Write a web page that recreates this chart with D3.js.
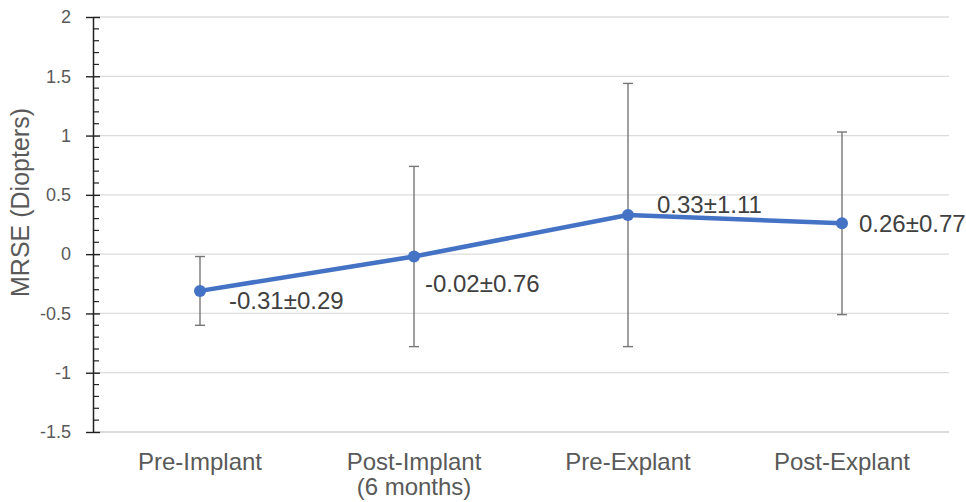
<!DOCTYPE html>
<html>
<head>
<meta charset="utf-8">
<script src="https://cdn.jsdelivr.net/npm/d3@7/dist/d3.min.js"></script>
<style>
  html, body { margin: 0; padding: 0; background: #fff; }
  svg { display: block; font-family: "Liberation Sans", Arial, Helvetica, sans-serif; }
</style>
</head>
<body>
<div id="chart"></div>
<script>
// data
const categories = ["Pre-Implant", "Post-Implant\n(6 months)", "Pre-Explant", "Post-Explant"]
const means = [-0.31, -0.02, 0.33, 0.26]
const sds = [0.29, 0.76, 1.11, 0.77]
const yTicks = [-1.5, -1, -0.5, 0, 0.5, 1, 1.5, 2]

// label offsets from each point (layout only)
const labelOffsets = [[29, 10], [11, 27], [29, -10], [17, 0]]

const width = 966
const height = 502
const margin = { top: 17, right: 17, bottom: 70, left: 93 }

// plain hyphen for negatives, like the original
const fmt = d3.formatLocale({ decimal: ".", thousands: ",", grouping: [3], currency: ["", ""], minus: "-" })
const fmtTick = fmt.format("")
const fmt2 = fmt.format(".2f")

const svg = d3.select("#chart")
  .append("svg")
  .attr("width", width)
  .attr("height", height)

const x = d3.scaleBand()
  .domain(categories)
  .range([margin.left, width - margin.right])

const y = d3.scaleLinear()
  .domain([-1.5, 2])
  .range([height - margin.bottom, margin.top])

/*
 * gridlines
 */
svg.append("g")
  .selectAll("line")
  .data(yTicks)
  .join("line")
  .attr("x1", margin.left)
  .attr("x2", width - margin.right)
  .attr("y1", (d) => y(d))
  .attr("y2", (d) => y(d))
  .attr("stroke", (d) => (d === -1.5 ? "#cfcfcf" : "#dcdcdc"))
  .attr("stroke-width", 1.3)

/*
 * y axis: labels, major and minor ticks
 */
const yAxis = svg.append("g")
  .attr("transform", `translate(${margin.left},0)`)
  .call(
    d3.axisLeft(y)
      .tickValues(yTicks)
      .tickSizeInner(7)
      .tickSizeOuter(0)
      .tickPadding(15)
      .tickFormat(fmtTick)
  )
yAxis.select(".domain").attr("stroke", "#222").attr("stroke-width", 1.5)
yAxis.selectAll(".tick line").attr("x2", 7).attr("x1", -7).attr("stroke", "#222").attr("stroke-width", 1.4)
yAxis.selectAll(".tick text")
  .attr("fill", "#595959")
  .style("font-size", "18px")
  .style("font-family", "'Liberation Sans', Arial, sans-serif")

const minorTicks = d3.range(-15, 21).map((v) => v / 10).filter((v) => !yTicks.includes(v))
yAxis.append("g")
  .selectAll("line")
  .data(minorTicks)
  .join("line")
  .attr("x1", 0)
  .attr("x2", 6)
  .attr("y1", (d) => y(d))
  .attr("y2", (d) => y(d))
  .attr("stroke", "#222")
  .attr("stroke-width", 1.2)

/*
 * y title
 */
svg.append("text")
  .attr("transform", `translate(29,${(margin.top + height - margin.bottom) / 2 - 22}) rotate(-90)`)
  .attr("text-anchor", "middle")
  .attr("fill", "#595959")
  .style("font-size", "25px")
  .text("MRSE (Diopters)")

/*
 * x labels
 */
const xLabels = svg.append("g")
  .selectAll("text")
  .data(categories)
  .join("text")
  .attr("x", (d) => x(d) + x.bandwidth() / 2)
  .attr("y", 470)
  .attr("text-anchor", "middle")
  .attr("fill", "#595959")
  .style("font-size", "24px")

xLabels.selectAll("tspan")
  .data((d) => d.split("\n"))
  .join("tspan")
  .attr("x", function () { return d3.select(this.parentNode).attr("x") })
  .attr("dy", (d, i) => (i === 0 ? 0 : 25))
  .text((d) => d)

/*
 * error bars
 */
const cx = (i) => x(categories[i]) + x.bandwidth() / 2
const err = svg.append("g")
  .attr("stroke", "#777")
  .attr("stroke-width", 1.4)

means.forEach((m, i) => {
  const top = y(m + sds[i])
  const bottom = y(m - sds[i])
  err.append("line").attr("x1", cx(i)).attr("x2", cx(i)).attr("y1", top).attr("y2", bottom)
  err.append("line").attr("x1", cx(i) - 5).attr("x2", cx(i) + 5).attr("y1", top).attr("y2", top)
  err.append("line").attr("x1", cx(i) - 5).attr("x2", cx(i) + 5).attr("y1", bottom).attr("y2", bottom)
})

/*
 * line and markers
 */
const line = d3.line()
  .x((d, i) => cx(i))
  .y((d) => y(d))

svg.append("path")
  .datum(means)
  .attr("d", line)
  .attr("fill", "none")
  .attr("stroke", "#4472C4")
  .attr("stroke-width", 4.5)
  .attr("stroke-linejoin", "round")

svg.append("g")
  .selectAll("circle")
  .data(means)
  .join("circle")
  .attr("cx", (d, i) => cx(i))
  .attr("cy", (d) => y(d))
  .attr("r", 6)
  .attr("fill", "#4472C4")

/*
 * data labels
 */
svg.append("g")
  .selectAll("text")
  .data(means)
  .join("text")
  .attr("x", (d, i) => cx(i) + labelOffsets[i][0])
  .attr("y", (d, i) => y(d) + labelOffsets[i][1])
  .attr("dy", "0.35em")
  .attr("fill", "#404040")
  .style("font-size", "24px")
  .text((d, i) => `${fmt2(d)}±${fmt2(sds[i])}`)
</script>
</body>
</html>
